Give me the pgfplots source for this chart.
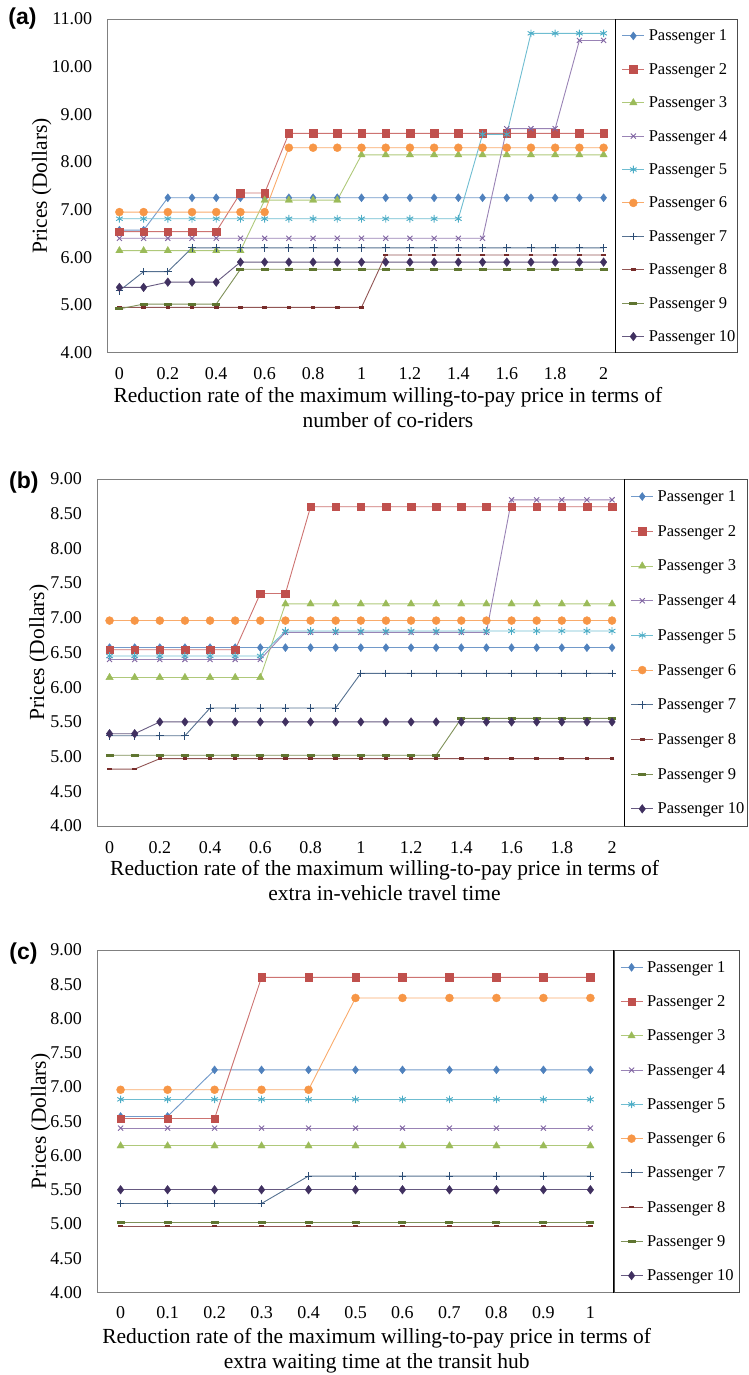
\documentclass[border=0pt]{standalone}
\usepackage{pgfplots}
\pgfplotsset{compat=1.18}
\usepackage{pgfplotstable}
\usepackage{fontspec}
\setmainfont{Liberation Serif}
\newfontfamily\panelfont{Liberation Sans}
\definecolor{c1}{HTML}{4F81BD}
\definecolor{c2}{HTML}{C0504D}
\definecolor{c3}{HTML}{9BBB59}
\definecolor{c4}{HTML}{8064A2}
\definecolor{c5}{HTML}{4BACC6}
\definecolor{c6}{HTML}{F79646}
\definecolor{c7}{HTML}{2C4D75}
\definecolor{c8}{HTML}{772C2A}
\definecolor{c9}{HTML}{5F7530}
\definecolor{c10}{HTML}{403060}
\newcommand\tickfont{\fontsize{18}{20}\selectfont}
\newcommand\legfont{\fontsize{16.5}{19}\selectfont}
\newcommand\titlefont{\fontsize{21.5}{25}\selectfont}

\pgfplotstableread{
x p1 p2 p3 p4 p5 p6 p7 p8 p9 p10
0.0 6.57 6.54 6.14 6.40 6.81 6.95 5.30 4.95 4.92 5.37
0.1 6.57 6.54 6.14 6.40 6.81 6.95 5.70 4.95 5.02 5.37
0.2 7.25 6.54 6.14 6.40 6.81 6.95 5.70 4.95 5.02 5.48
0.3 7.25 6.54 6.14 6.40 6.81 6.95 6.20 4.95 5.02 5.48
0.4 7.25 6.54 6.14 6.40 6.81 6.95 6.20 4.95 5.02 5.48
0.5 7.25 7.35 6.14 6.40 6.81 6.95 6.20 4.95 5.75 5.90
0.6 7.25 7.35 7.20 6.40 6.81 6.95 6.20 4.95 5.75 5.90
0.7 7.25 8.60 7.20 6.40 6.81 8.30 6.20 4.95 5.75 5.90
0.8 7.25 8.60 7.20 6.40 6.81 8.30 6.20 4.95 5.75 5.90
0.9 7.25 8.60 7.20 6.40 6.81 8.30 6.20 4.95 5.75 5.90
1.0 7.25 8.60 8.15 6.40 6.81 8.30 6.20 4.95 5.75 5.90
1.1 7.25 8.60 8.15 6.40 6.81 8.30 6.20 6.05 5.75 5.90
1.2 7.25 8.60 8.15 6.40 6.81 8.30 6.20 6.05 5.75 5.90
1.3 7.25 8.60 8.15 6.40 6.81 8.30 6.20 6.05 5.75 5.90
1.4 7.25 8.60 8.15 6.40 6.81 8.30 6.20 6.05 5.75 5.90
1.5 7.25 8.60 8.15 6.40 8.58 8.30 6.20 6.05 5.75 5.90
1.6 7.25 8.60 8.15 8.70 8.58 8.30 6.20 6.05 5.75 5.90
1.7 7.25 8.60 8.15 8.70 10.70 8.30 6.20 6.05 5.75 5.90
1.8 7.25 8.60 8.15 8.70 10.70 8.30 6.20 6.05 5.75 5.90
1.9 7.25 8.60 8.15 10.55 10.70 8.30 6.20 6.05 5.75 5.90
2.0 7.25 8.60 8.15 10.55 10.70 8.30 6.20 6.05 5.75 5.90
}\tabA

\pgfplotstableread{
x p1 p2 p3 p4 p5 p6 p7 p8 p9 p10
0.0 6.57 6.54 6.14 6.40 6.45 6.96 5.30 4.82 5.02 5.33
0.1 6.57 6.54 6.14 6.40 6.45 6.96 5.30 4.82 5.02 5.33
0.2 6.57 6.54 6.14 6.40 6.45 6.96 5.30 4.97 5.02 5.50
0.3 6.57 6.54 6.14 6.40 6.45 6.96 5.30 4.97 5.02 5.50
0.4 6.57 6.54 6.14 6.40 6.45 6.96 5.70 4.97 5.02 5.50
0.5 6.57 6.54 6.14 6.40 6.45 6.96 5.70 4.97 5.02 5.50
0.6 6.57 7.35 6.14 6.40 6.45 6.96 5.70 4.97 5.02 5.50
0.7 6.57 7.35 7.20 6.79 6.81 6.96 5.70 4.97 5.02 5.50
0.8 6.57 8.60 7.20 6.79 6.81 6.96 5.70 4.97 5.02 5.50
0.9 6.57 8.60 7.20 6.79 6.81 6.96 5.70 4.97 5.02 5.50
1.0 6.57 8.60 7.20 6.79 6.81 6.96 6.20 4.97 5.02 5.50
1.1 6.57 8.60 7.20 6.79 6.81 6.96 6.20 4.97 5.02 5.50
1.2 6.57 8.60 7.20 6.79 6.81 6.96 6.20 4.97 5.02 5.50
1.3 6.57 8.60 7.20 6.79 6.81 6.96 6.20 4.97 5.02 5.50
1.4 6.57 8.60 7.20 6.79 6.81 6.96 6.20 4.97 5.55 5.50
1.5 6.57 8.60 7.20 6.79 6.81 6.96 6.20 4.97 5.55 5.50
1.6 6.57 8.60 7.20 8.70 6.81 6.96 6.20 4.97 5.55 5.50
1.7 6.57 8.60 7.20 8.70 6.81 6.96 6.20 4.97 5.55 5.50
1.8 6.57 8.60 7.20 8.70 6.81 6.96 6.20 4.97 5.55 5.50
1.9 6.57 8.60 7.20 8.70 6.81 6.96 6.20 4.97 5.55 5.50
2.0 6.57 8.60 7.20 8.70 6.81 6.96 6.20 4.97 5.55 5.50
}\tabB

\pgfplotstableread{
x p1 p2 p3 p4 p5 p6 p7 p8 p9 p10
0.0 6.57 6.54 6.14 6.40 6.82 6.96 5.30 4.97 5.02 5.50
0.1 6.57 6.54 6.14 6.40 6.82 6.96 5.30 4.97 5.02 5.50
0.2 7.25 6.54 6.14 6.40 6.82 6.96 5.30 4.97 5.02 5.50
0.3 7.25 8.60 6.14 6.40 6.82 6.96 5.30 4.97 5.02 5.50
0.4 7.25 8.60 6.14 6.40 6.82 6.96 5.70 4.97 5.02 5.50
0.5 7.25 8.60 6.14 6.40 6.82 8.30 5.70 4.97 5.02 5.50
0.6 7.25 8.60 6.14 6.40 6.82 8.30 5.70 4.97 5.02 5.50
0.7 7.25 8.60 6.14 6.40 6.82 8.30 5.70 4.97 5.02 5.50
0.8 7.25 8.60 6.14 6.40 6.82 8.30 5.70 4.97 5.02 5.50
0.9 7.25 8.60 6.14 6.40 6.82 8.30 5.70 4.97 5.02 5.50
1.0 7.25 8.60 6.14 6.40 6.82 8.30 5.70 4.97 5.02 5.50
}\tabC

\pgfplotsset{
  legend image code/.code={\draw[mark repeat=2,mark phase=2,#1] plot coordinates {(0pt,0pt) (11pt,0pt) (22pt,0pt)};},
  panel/.style={
    scale only axis, anchor=south west, clip=false,
    axis line style={draw=black!50, line width=0.8pt},
    major tick length=0pt,
    tick label style={font=\tickfont},
    /pgf/number format/assume math mode=true,
    yticklabel style={anchor=east, inner sep=0pt, xshift=-15pt,
      /pgf/number format/fixed, /pgf/number format/fixed zerofill, /pgf/number format/precision=2},
    xticklabel style={anchor=center, inner sep=0pt},
    label style={font=\titlefont},
    ylabel={Prices (Dollars)},
    xlabel style={anchor=center, align=center},
    ylabel style={anchor=center},
    legend cell align=left,
    legend style={at={(1,1)}, anchor=north west, xshift=6pt, draw=none, fill=none,
      inner sep=0pt, row sep=0pt, column sep=0pt, cells={anchor=west}, font=\legfont},
    legend entries={Passenger 1,Passenger 2,Passenger 3,Passenger 4,Passenger 5,Passenger 6,Passenger 7,Passenger 8,Passenger 9,Passenger 10},
  },
  s1/.style={draw=c1!80!white, line width=0.9pt, mark=diamond*, mark size=4pt, mark options={fill=c1, draw=c1, line width=0.4pt}},
  s2/.style={draw=c2!80!white, line width=0.9pt, mark=square*, mark size=3.8pt, mark options={fill=c2, draw=c2, line width=0.4pt}},
  s3/.style={draw=c3!80!white, line width=0.9pt, mark=triangle*, mark size=4.2pt, mark options={fill=c3, draw=c3, line width=0.4pt}},
  s4/.style={draw=c4!80!white, line width=0.9pt, mark=x, mark size=3.6pt, mark options={draw=c4, line width=0.9pt}},
  s5/.style={draw=c5!80!white, line width=0.9pt, mark=asterisk, mark size=3.8pt, mark options={draw=c5, line width=0.9pt}},
  s6/.style={draw=c6!80!white, line width=0.9pt, mark=*, mark size=4pt, mark options={fill=c6, draw=c6, line width=0.4pt}},
  s7/.style={draw=c7!80!white, line width=0.9pt, mark=+, mark size=3.8pt, mark options={draw=c7, line width=0.9pt}},
  s8/.style={draw=c8!80!white, line width=0.9pt, mark=-, mark size=2.3pt, mark options={draw=c8, line width=2.6pt}},
  s9/.style={draw=c9!80!white, line width=0.9pt, mark=-, mark size=4pt, mark options={draw=c9, line width=3pt}},
  s10/.style={draw=c10!80!white, line width=0.9pt, mark=diamond*, mark size=4.3pt, mark options={fill=c10, draw=c10, line width=0.4pt}},
}

\begin{document}
\begin{tikzpicture}
\useasboundingbox (0pt,0pt) rectangle (749pt,-1375pt);

% ---------------- (a) ----------------
\begin{axis}[panel, name=axA, at={(107.3pt,-352.7pt)},
  width=508.4pt, height=333.7pt,
  xmin=-0.05, xmax=2.05, ymin=4, ymax=11,
  ytick={4,5,6,7,8,9,10,11},
  xtick={0,0.2,0.4,0.6,0.8,1,1.2,1.4,1.6,1.8,2},
  xticklabels={0,0.2,0.4,0.6,0.8,1,1.2,1.4,1.6,1.8,2},
  xticklabel style={yshift=-21.3pt},
  xlabel={Reduction rate of the maximum willing-to-pay price in terms of\\number of co-riders},
  xlabel style={at={(axis description cs:0.552,-0.1642)}},
  ylabel style={at={(axis description cs:-0.129,0.5)}},
  legend style={nodes={inner xsep=4pt, inner ysep=0pt, text height=21.7pt, text depth=11.7pt}},
]
\addplot[s1] table[x=x,y=p1]{\tabA};
\addplot[s2] table[x=x,y=p2]{\tabA};
\addplot[s3] table[x=x,y=p3]{\tabA};
\addplot[s4] table[x=x,y=p4]{\tabA};
\addplot[s5] table[x=x,y=p5]{\tabA};
\addplot[s6] table[x=x,y=p6]{\tabA};
\addplot[s7] table[x=x,y=p7]{\tabA};
\addplot[s8] table[x=x,y=p8]{\tabA};
\addplot[s9] table[x=x,y=p9]{\tabA};
\addplot[s10] table[x=x,y=p10]{\tabA};
\end{axis}
\draw[black!70, line width=0.8pt] (axA.south east) rectangle ([xshift=122pt]axA.north east);
\draw[black, line width=0.9pt] (axA.south east) -- (axA.north east);
\node[font=\panelfont\bfseries\fontsize{23}{26}\selectfont] at (22.5pt,-19pt) {(a)};

% ---------------- (b) ----------------
\begin{axis}[panel, name=axB, at={(97pt,-826pt)},
  width=527.6pt, height=347pt,
  xmin=-0.05, xmax=2.05, ymin=4, ymax=9,
  ytick={4,4.5,5,5.5,6,6.5,7,7.5,8,8.5,9},
  xtick={0,0.2,0.4,0.6,0.8,1,1.2,1.4,1.6,1.8,2},
  xticklabels={0,0.2,0.4,0.6,0.8,1,1.2,1.4,1.6,1.8,2},
  xticklabel style={yshift=-22pt},
  xlabel={Reduction rate of the maximum willing-to-pay price in terms of\\extra in-vehicle travel time},
  xlabel style={at={(axis description cs:0.545,-0.1585)}},
  ylabel style={at={(axis description cs:-0.110,0.5)}},
  legend style={nodes={inner xsep=4pt, inner ysep=0pt, text height=22.35pt, text depth=12.35pt}},
]
\addplot[s1] table[x=x,y=p1]{\tabB};
\addplot[s2] table[x=x,y=p2]{\tabB};
\addplot[s3] table[x=x,y=p3]{\tabB};
\addplot[s4] table[x=x,y=p4]{\tabB};
\addplot[s5] table[x=x,y=p5]{\tabB};
\addplot[s6] table[x=x,y=p6]{\tabB};
\addplot[s7] table[x=x,y=p7]{\tabB};
\addplot[s8] table[x=x,y=p8]{\tabB};
\addplot[s9] table[x=x,y=p9]{\tabB};
\addplot[s10] table[x=x,y=p10]{\tabB};
\end{axis}
\draw[black!70, line width=0.8pt] (axB.south east) rectangle ([xshift=122.9pt]axB.north east);
\draw[black, line width=0.9pt] (axB.south east) -- (axB.north east);
\node[font=\panelfont\bfseries\fontsize{23}{26}\selectfont] at (23.9pt,-482.7pt) {(b)};

% ---------------- (c) ----------------
\begin{axis}[panel, name=axC, at={(97.1pt,-1292.5pt)},
  width=516.8pt, height=342.5pt,
  xmin=-0.05, xmax=1.05, ymin=4, ymax=9,
  ytick={4,4.5,5,5.5,6,6.5,7,7.5,8,8.5,9},
  xtick={0,0.1,0.2,0.3,0.4,0.5,0.6,0.7,0.8,0.9,1},
  xticklabels={0,0.1,0.2,0.3,0.4,0.5,0.6,0.7,0.8,0.9,1},
  xticklabel style={yshift=-20pt},
  xlabel={Reduction rate of the maximum willing-to-pay price in terms of\\extra waiting time at the transit hub},
  xlabel style={at={(axis description cs:0.541,-0.1702)}},
  ylabel style={at={(axis description cs:-0.1093,0.5)}},
  legend style={nodes={inner xsep=4pt, inner ysep=0pt, text height=22.13pt, text depth=12.13pt}},
]
\addplot[s1] table[x=x,y=p1]{\tabC};
\addplot[s2] table[x=x,y=p2]{\tabC};
\addplot[s3] table[x=x,y=p3]{\tabC};
\addplot[s4] table[x=x,y=p4]{\tabC};
\addplot[s5] table[x=x,y=p5]{\tabC};
\addplot[s6] table[x=x,y=p6]{\tabC};
\addplot[s7] table[x=x,y=p7]{\tabC};
\addplot[s8] table[x=x,y=p8]{\tabC};
\addplot[s9] table[x=x,y=p9]{\tabC};
\addplot[s10] table[x=x,y=p10]{\tabC};
\end{axis}
\draw[black!70, line width=0.8pt] (axC.south east) rectangle ([xshift=125.1pt]axC.north east);
\draw[black, line width=0.9pt] (axC.south east) -- (axC.north east);
\node[font=\panelfont\bfseries\fontsize{23}{26}\selectfont] at (23.4pt,-953.3pt) {(c)};
\end{tikzpicture}
\end{document}
